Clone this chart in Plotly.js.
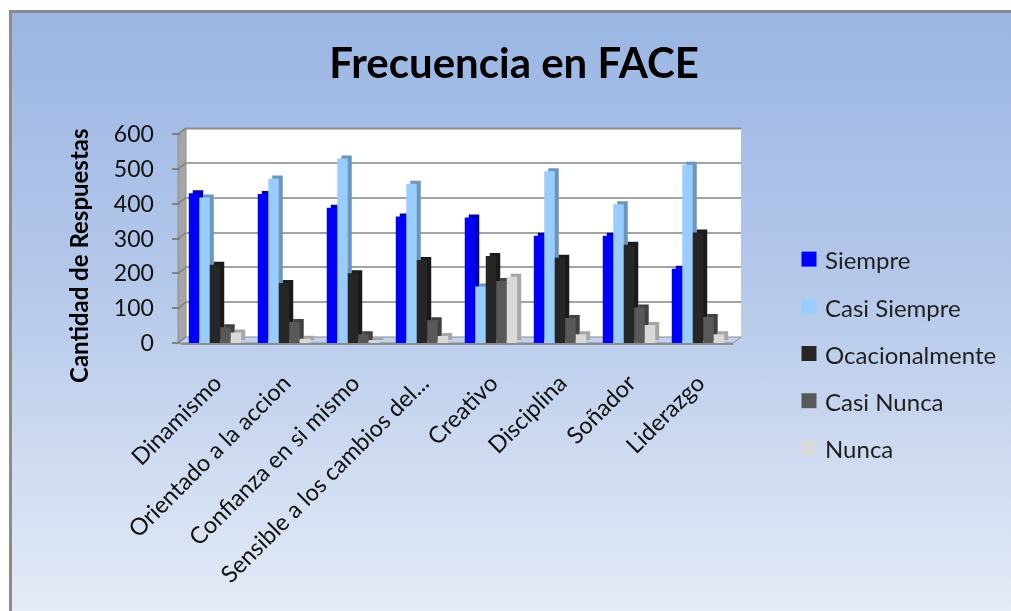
<!DOCTYPE html>
<html><head><meta charset="utf-8">
<script src="https://cdn.plot.ly/plotly-3.0.1.min.js"></script>
<style>
html,body{margin:0;padding:0;background:#fff;width:1011px;height:611px;overflow:hidden}
#frame{position:absolute;left:9px;top:10px;width:1002px;height:601px;box-sizing:border-box;
border-left:3px solid #8c8c8c;border-top:3px solid #8c8c8c;
background:linear-gradient(180deg,#9bb6e4 0%,#b4c8ea 45%,#e5ebf7 100%)}
#chart{position:absolute;left:0;top:0;width:1011px;height:611px;filter:blur(0.4px)}
</style></head><body><div id="frame"></div><div id="chart"></div>
<script>
const categories=["Dinamismo","Orientado a la accion","Confianza en si mismo","Sensible a los cambios del...","Creativo","Disciplina","Soñador","Liderazgo"];
const siempre=[430,428,388,363,360,308,308,213];
const casiSiempre=[418,472,530,457,162,493,398,512];
const ocacionalmente=[225,172,200,238,250,245,282,317];
const casiNunca=[45,60,25,65,178,72,102,75];
const nunca=[30,12,5,20,190,25,52,25];
const yTicks=[0,100,200,300,400,500,600];

const seriesNames=["Siempre","Casi Siempre","Ocacionalmente","Casi Nunca","Nunca"];
const seriesValues=[siempre,casiSiempre,ocacionalmente,casiNunca,nunca];
const frontColors=["#0000ff","#99ccff","#262626","#595959","#d9d9d9"];
const sideColors=["#0000b0","#6a95bd","#1a1a1a","#404040","#a6a6a6"];

const W=1011,H=611;
const px=v=>v/W, py=v=>1-v/H;
const font="Lato, 'Open Sans', sans-serif", ink="#111111";
const yRange=[0,600];

const traces=[];
// empty trace that brings the back-wall subplot (gridlines) into existence
traces.push({type:"scatter",mode:"none",x:categories,y:categories.map(()=>null),xaxis:"x",yaxis:"y",showlegend:false,hoverinfo:"skip"});
// side faces: same values, on a subplot shifted up and to the right
seriesNames.forEach((n,i)=>traces.push({type:"bar",x:categories,y:seriesValues[i],xaxis:"x2",yaxis:"y2",
  marker:{color:sideColors[i]},showlegend:false,hoverinfo:"skip",legendgroup:n,offsetgroup:String(i)}));
// front faces
seriesNames.forEach((n,i)=>traces.push({type:"bar",name:n,x:categories,y:seriesValues[i],xaxis:"x3",yaxis:"y3",
  marker:{color:frontColors[i]},legendgroup:n,offsetgroup:String(i)}));

const hiddenX={type:"category",showgrid:false,showline:false,ticks:"",showticklabels:false,zeroline:false};
const yf=340;

const shapes=[
 {type:"rect",xref:"paper",yref:"paper",x0:px(186),x1:px(741),y0:py(337),y1:py(128),fillcolor:"#ffffff",line:{width:0},layer:"below"},
 {type:"line",xref:"paper",yref:"paper",x0:px(186),x1:px(741),y0:py(128.5),y1:py(128.5),line:{color:"#8c8c8c",width:2},layer:"below"},
 {type:"path",xref:"paper",yref:"paper",path:`M ${px(178)} ${py(343)} L ${px(186)} ${py(337)} L ${px(186)} ${py(128)} L ${px(178)} ${py(134)} Z`,fillcolor:"#a6a6a6",line:{color:"#8c8c8c",width:1},layer:"below"},
 {type:"path",xref:"paper",yref:"paper",path:`M ${px(178)} ${py(343)} L ${px(186)} ${py(337)} L ${px(741)} ${py(337)} L ${px(733)} ${py(343)} Z`,fillcolor:"#c0d2ee",line:{color:"#8c8c8c",width:1},layer:"below"}
];
yTicks.forEach(v=>{
  const y=343-(v/600)*209;
  shapes.push({type:"line",xref:"paper",yref:"paper",x0:px(178),x1:px(186),y0:py(y),y1:py(y-6),line:{color:"#808080",width:1.5},layer:"below"});
});

const layout={
 width:W,height:H,margin:{l:0,r:0,t:0,b:0},
 paper_bgcolor:"rgba(0,0,0,0)",plot_bgcolor:"rgba(0,0,0,0)",
 barmode:"group",bargap:0.24,bargroupgap:0,
 font:{family:font,color:ink},
 title:{text:"Frecuencia en FACE",font:{family:font,size:42,color:"#000",weight:700},x:0.5085,xanchor:"center",y:0.897,yanchor:"middle"},
 showlegend:true,
 legend:{x:px(785),xanchor:"left",y:py(238),yanchor:"top",bgcolor:"rgba(0,0,0,0)",font:{family:font,size:24,color:"#1f1f1f"},tracegroupgap:13,itemclick:false,itemdoubleclick:false,traceorder:"grouped"},
 // back wall gridlines
 xaxis:{...hiddenX,domain:[px(186),px(741)],anchor:"y"},
 yaxis:{domain:[py(337),py(128)],anchor:"x",range:yRange,tickvals:yTicks,showgrid:true,gridcolor:"#a3a3a3",gridwidth:2,showticklabels:false,ticks:"",zeroline:false,showline:false},
 // side faces
 xaxis2:{...hiddenX,domain:[px(184.5),px(736.5)],anchor:"y2"},
 yaxis2:{domain:[py(yf),py(yf-209)],anchor:"x2",range:yRange,showgrid:false,showticklabels:false,ticks:"",zeroline:false,showline:false},
 // front faces + visible axes
 xaxis3:{type:"category",domain:[px(180.5),px(732.5)],anchor:"y3",tickangle:-45,ticks:"",showgrid:false,showline:true,linecolor:"#8c8c8c",linewidth:2,zeroline:false,
   ticklabelstandoff:15,tickfont:{family:font,size:23.5,color:ink}},
 yaxis3:{domain:[py(343),py(134)],anchor:"x3",range:yRange,tickvals:yTicks,ticktext:yTicks.map(String),ticks:"outside",ticklen:8,tickcolor:"#808080",tickwidth:2,
   showgrid:false,zeroline:false,showline:false,ticklabelstandoff:13,tickfont:{family:font,size:23,color:ink}},
 annotations:[{text:"Cantidad de Respuestas",xref:"paper",yref:"paper",x:px(78),y:py(256),textangle:-90,showarrow:false,xanchor:"center",yanchor:"middle",
   font:{family:font,size:24,color:"#000",weight:700}}],
 shapes:shapes
};
Plotly.newPlot("chart",traces,layout,{displayModeBar:false}).then(gd=>{
  // legend swatches of the reference are larger than the library default
  gd.querySelectorAll(".legend .legendbar, .legend .legendpoints path").forEach(p=>{
    p.setAttribute("d","M7.5,7.5H-7.5V-7.5H7.5Z");
    p.setAttribute("transform","translate(24,-1)");
  });
});
</script></body></html>
